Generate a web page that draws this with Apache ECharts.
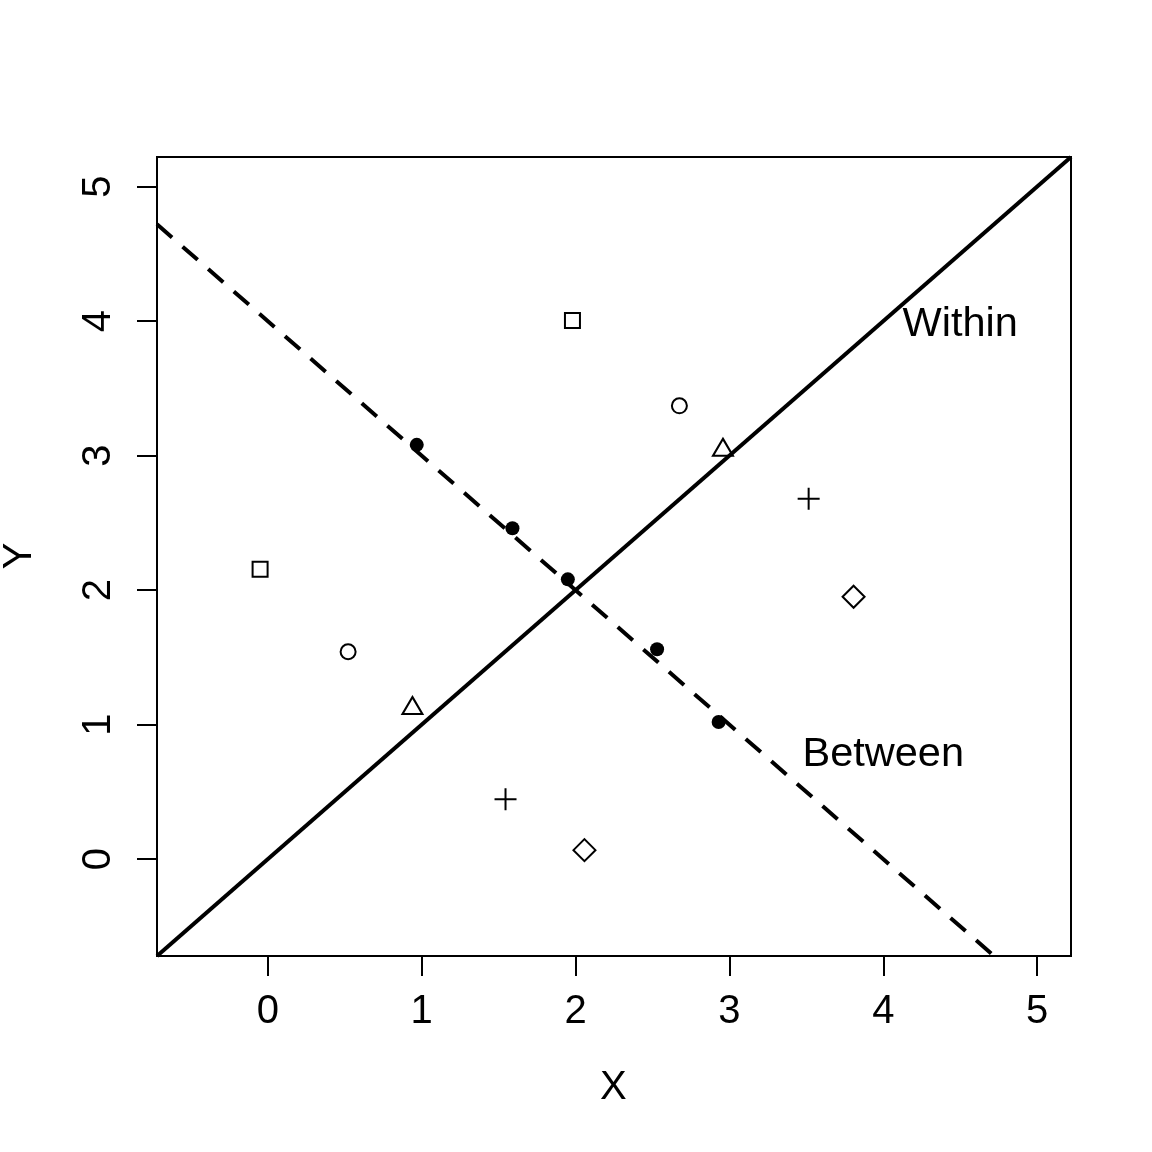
<!DOCTYPE html>
<html>
<head>
<meta charset="utf-8">
<script src="https://cdn.jsdelivr.net/npm/echarts@6/dist/echarts.min.js"></script>
<style>
  html, body { margin: 0; padding: 0; background: #fff; }
  #chart { width: 1152px; height: 1152px; }
</style>
</head>
<body>
<div id="chart"></div>
<script>
// axis range (R style: lim -0.5..5 with 4% padding) and ticks
var axisMin = -0.72;
var axisMax = 5.22;
var tickValues = [0, 1, 2, 3, 4, 5];

// group means (filled dots)
var meanX = [0.968, 1.59, 1.95, 2.53, 2.93];
var meanY = [3.08, 2.46, 2.08, 1.56, 1.02];

// individual observations, by group symbol
var squareX = [-0.05, 1.98];
var squareY = [2.155, 4.005];
var circleX = [0.522, 2.675];
var circleY = [1.542, 3.37];
var triangleX = [0.94, 2.958];
var triangleY = [1.12, 3.04];
var plusX = [1.545, 3.515];
var plusY = [0.446, 2.68];
var diamondX = [2.058, 3.807];
var diamondY = [0.067, 1.951];

// regression lines: intercept, slope
var withinLine = [0, 1];
var betweenLine = [4, -1];

// text annotations
var labelText = ['Within', 'Between'];
var labelX = [4.5, 4.0];
var labelY = [4.0, 0.8];

var FONT = '"Liberation Sans", Arial, Helvetica, sans-serif';

function pairs(xs, ys) {
    return xs.map(function (x, i) { return [x, ys[i]]; });
}

function lineData(coef) {
    return [axisMin, axisMax].map(function (x) { return [x, coef[0] + coef[1] * x]; });
}

function pointSeries(xs, ys, symbol, size, filled, offset) {
    return {
        type: 'scatter',
        data: pairs(xs, ys),
        symbol: symbol,
        symbolSize: size,
        symbolOffset: offset || [0, 0],
        silent: true,
        itemStyle: {
            color: filled ? '#000' : 'rgba(0,0,0,0)',
            borderColor: '#000',
            borderWidth: filled ? 0 : 2,
            opacity: 1
        },
        z: 5
    };
}

function makeAxis() {
    return {
        type: 'value',
        min: axisMin,
        max: axisMax,
        splitLine: { show: false },
        axisLine: { show: false, onZero: false },
        axisTick: {
            show: true,
            inside: false,
            length: 20,
            customValues: tickValues,
            lineStyle: { color: '#000', width: 2 }
        },
        axisLabel: {
            customValues: tickValues,
            color: '#000',
            fontSize: 40,
            fontFamily: FONT
        }
    };
}

function init() {
    var myChart = echarts.init(document.getElementById('chart'), null, { renderer: 'canvas' });

    var xAxis = makeAxis();
    xAxis.axisLabel.margin = 36;
    var yAxis = makeAxis();
    yAxis.axisLabel.rotate = 90;
    yAxis.axisLabel.margin = 38;

    myChart.setOption({
        animation: false,
        backgroundColor: '#fff',
        grid: {
            left: 157,
            top: 157,
            width: 914,
            height: 799,
            show: true,
            borderColor: '#000',
            borderWidth: 2,
            backgroundColor: 'rgba(0,0,0,0)'
        },
        xAxis: xAxis,
        yAxis: yAxis,
        graphic: [
            {
                type: 'text',
                left: 614 - 14,
                top: 1068,
                style: { text: 'X', font: '40px ' + FONT, fill: '#000' }
            },
            {
                type: 'text',
                x: 0,
                y: 556,
                rotation: Math.PI / 2,
                style: {
                    text: 'Y', font: '40px ' + FONT, fill: '#000',
                    align: 'center', verticalAlign: 'top'
                }
            }
        ],
        series: [
            {
                type: 'line',
                data: lineData(withinLine),
                symbol: 'none',
                clip: true,
                silent: true,
                lineStyle: { color: '#000', width: 4 }
            },
            {
                type: 'line',
                data: lineData(betweenLine),
                symbol: 'none',
                clip: true,
                silent: true,
                lineStyle: { color: '#000', width: 4, type: [20, 14] }
            },
            pointSeries(meanX, meanY, 'circle', 14, true),
            pointSeries(squareX, squareY, 'rect', 15, false),
            pointSeries(circleX, circleY, 'circle', 15, false),
            pointSeries(triangleX, triangleY, 'triangle', [20, 17], false, [0, -3]),
            pointSeries(plusX, plusY, 'path://M10,0L10,20M0,10L20,10', 22, false),
            pointSeries(diamondX, diamondY, 'diamond', 22, false),
            {
                type: 'scatter',
                data: labelX.map(function (x, i) { return { value: [x, labelY[i]], name: labelText[i] }; }),
                symbolSize: 0,
                silent: true,
                itemStyle: { opacity: 1 },
                label: {
                    show: true,
                    position: 'inside',
                    offset: [0, 3],
                    formatter: '{b}',
                    color: '#000',
                    opacity: 1,
                    fontSize: 41.5,
                    fontFamily: FONT
                }
            }
        ]
    });
}

document.addEventListener('DOMContentLoaded', function () {
    init();
});
</script>
</body>
</html>
